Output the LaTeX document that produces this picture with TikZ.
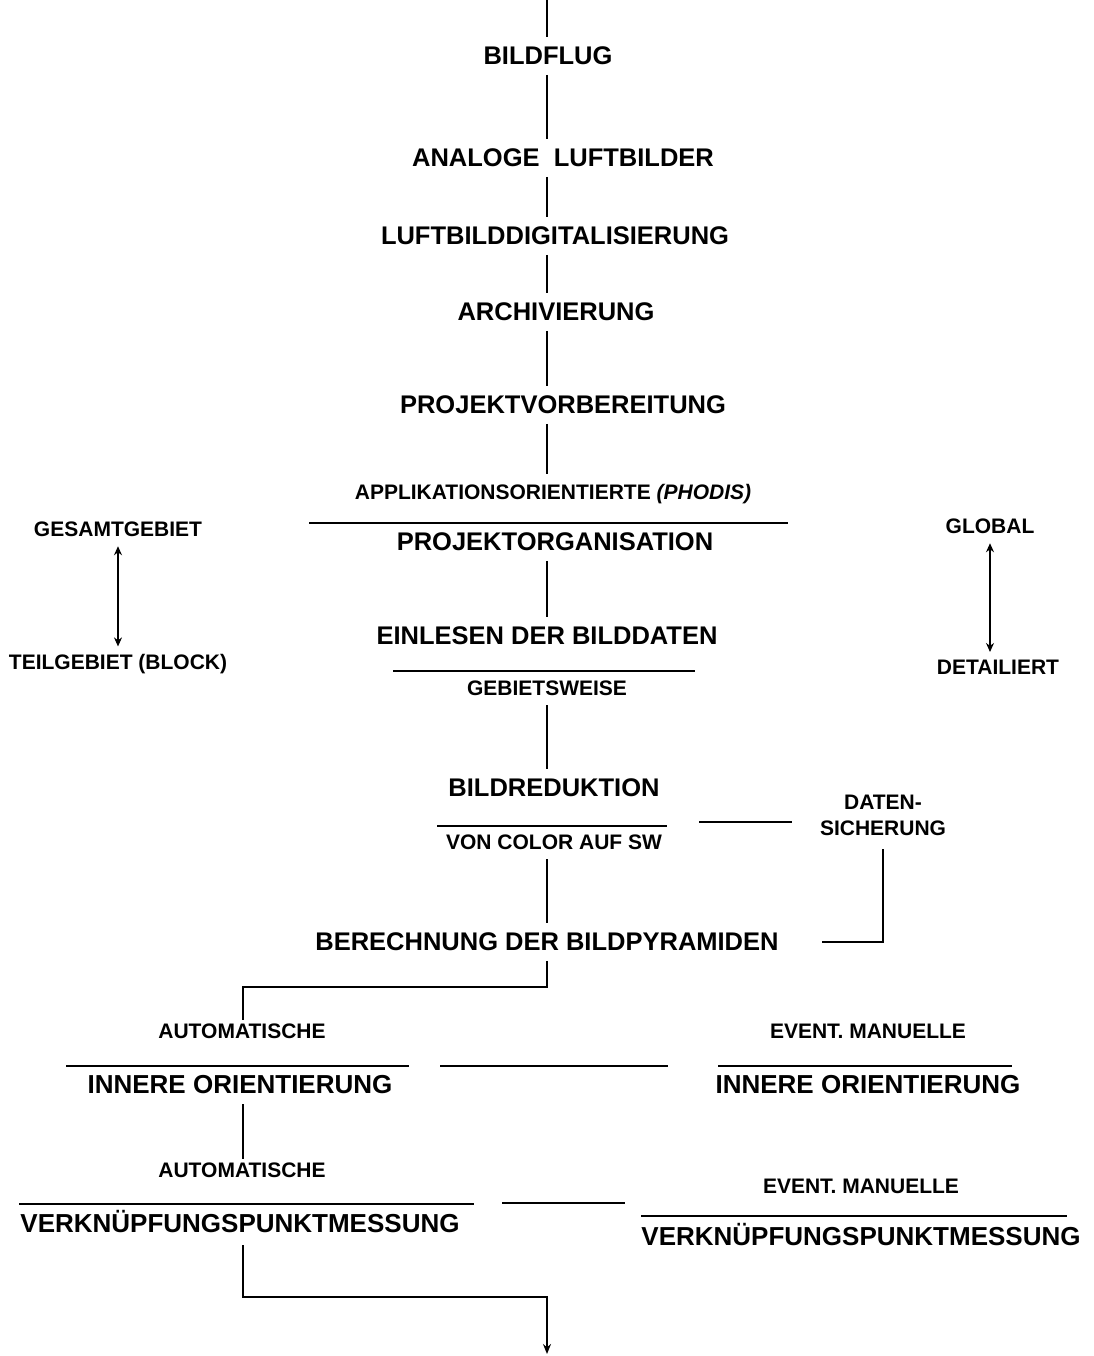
\documentclass[tikz,border=0pt]{standalone}
\usepackage{fontspec}
\setmainfont{Liberation Sans}
\usetikzlibrary{arrows.meta,positioning,calc}
\tikzset{
  every picture/.style={line width=1.6pt, x=1pt, y=-1pt},
  big/.style={font=\fontsize{25.5}{28}\selectfont\bfseries, inner sep=3pt},
  small/.style={font=\fontsize{21}{26}\selectfont\bfseries, inner sep=3pt, align=center},
  low/.style={big, font=\fontsize{26}{28}\selectfont\bfseries},
  link/.style={line width=1.6pt, shorten <=6pt, shorten >=6pt},
  rulebar/.style={line width=1.4pt},
  twoway/.style={{Stealth[length=9pt,width=8pt]}-{Stealth[length=9pt,width=8pt]}, line width=1.3pt, shorten <=6pt, shorten >=4pt},
  flow/.style={-{Stealth[length=10pt,width=8pt]}, line width=1.6pt},
}
\begin{document}
\begin{tikzpicture}
  \useasboundingbox (0,0) rectangle (1093,1356);
  \coordinate (entry) at (547,0);
  \coordinate (exit) at (547,1354);
  \coordinate (lefttrunk) at (243,0);

  % main chain
  \node[big] (flug) at (548,56) {BILDFLUG};
  \node[big] (analog) at (563,158) {ANALOGE\ \ LUFTBILDER};
  \node[big] (digit) at (555,236) {LUFTBILDDIGITALISIERUNG};
  \node[big] (archiv) at (556,312) {ARCHIVIERUNG};
  \node[big] (vorb) at (563,405) {PROJEKTVORBEREITUNG};
  \node[small] (appl) at (553,494) {APPLIKATIONSORIENTIERTE \textit{(PHODIS)}};
  \node[big] (org) at (555,542) {PROJEKTORGANISATION};
  \node[big] (einl) at (547,636) {EINLESEN DER BILDDATEN};
  \node[small] (gebiet) at (547,688) {GEBIETSWEISE};
  \node[big] (red) at (554,788) {BILDREDUKTION};
  \node[small] (color) at (554,842) {VON COLOR AUF SW};
  \node[small] (dat) at (883,815) {DATEN-\\SICHERUNG};
  \node[big] (pyr) at (547,942) {BERECHNUNG DER BILDPYRAMIDEN};

  % side scales
  \node[small] (gesamt) at (118,529) {GESAMTGEBIET};
  \node[small] (teil) at (118,664) {TEILGEBIET (BLOCK)};
  \node[small] (global) at (990,526) {GLOBAL};
  \node[small] (detail) at (998,667) {DETAILIERT};

  % orientation and tie points
  \node[small] (autoA) at (242,1031) {AUTOMATISCHE};
  \node[low] (ioA) at (240,1085) {INNERE ORIENTIERUNG};
  \node[small] (manA) at (868,1031) {EVENT. MANUELLE};
  \node[low] (ioM) at (868,1085) {INNERE ORIENTIERUNG};
  \node[small] (autoB) at (242,1170) {AUTOMATISCHE};
  \node[low] (vpA) at (240,1222) {VERKNÜPFUNGSPUNKTMESSUNG};
  \node[small] (manB) at (861,1186) {EVENT. MANUELLE};
  \node[low] (vpM) at (861,1235) {VERKNÜPFUNGSPUNKTMESSUNG};

  % fraction rules
  \foreach \a/\b/\y in {309/788/523, 393/695/671, 437/667/826, 66/409/1066,
                        718/1012/1066, 19/474/1204, 641/1067/1216}
    \draw[rulebar] (\a,\y) -- (\b,\y);

  % trunk
  \draw[link, shorten <=0pt] (entry) -- (flug.north -| entry);
  \foreach \u/\v in {flug/analog, analog/digit, digit/archiv, archiv/vorb,
                     vorb/appl, org/einl, gebiet/red, color/pyr}
    \draw[link] (\u.south -| entry) -- (\v.north -| entry);
  \draw[link, shorten >=0pt] (pyr.south -| entry) -- ++(0,32) -| (autoA.north -| lefttrunk);
  \draw[link, shorten >=0pt] (ioA.south -| lefttrunk) -- (autoB.north -| lefttrunk);
  \draw[flow, shorten <=8pt] (vpA.south -| lefttrunk) -- ++(0,60) -| (exit);

  % side links
  \draw[rulebar] (699,822) -- ++(93,0);
  \draw[rulebar] ([yshift=-10pt]dat.south) |- ([xshift=40pt]pyr.east);
  \draw[rulebar] (440,1066) -- (668,1066);
  \draw[rulebar] (502,1203) -- (625,1203);

  % ranges
  \draw[twoway] (gesamt.south) -- (teil.north);
  \draw[twoway] (global.south) -- (global.south |- detail.north);
\end{tikzpicture}
\end{document}
